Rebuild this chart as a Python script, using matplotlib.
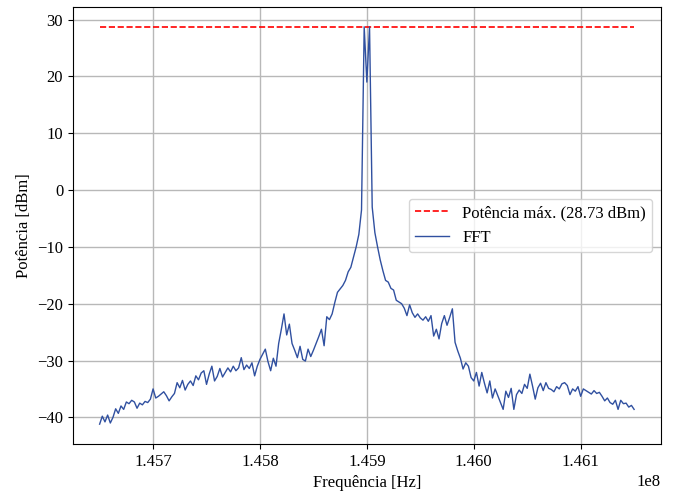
import numpy as np
import matplotlib
matplotlib.use("Agg")
import matplotlib.pyplot as plt

# FFT bins: 145.65 MHz .. 146.15 MHz, 2.5 kHz apart
freq_start = 1.4565e8
freq_step = 2500.0

power_dbm = [
    -41.2, -39.8, -40.8, -39.6, -41.0, -40.0, -38.5, -39.3, -38.0, -38.6,
    -37.3, -37.6, -37.0, -37.3, -38.4, -37.5, -37.8, -37.2, -37.4, -36.8,
    -35.0, -36.6, -36.3, -35.9, -35.5, -36.2, -37.1, -36.4, -35.8, -33.9,
    -34.8, -33.5, -35.2, -34.2, -33.6, -34.4, -32.7, -33.4, -32.2, -31.8,
    -34.2, -32.4, -31.0, -33.6, -32.8, -31.4, -32.9, -32.1, -31.3, -32.0,
    -31.0, -31.8, -31.3, -29.5, -31.6, -30.8, -31.4, -30.4, -32.7, -31.0,
    -29.8, -28.9, -28.0, -30.2, -31.8, -29.6, -31.0, -27.0, -24.5, -21.8,
    -25.5, -23.6, -27.0, -28.2, -29.5, -27.5, -29.8, -30.1, -28.0, -29.3,
    -28.2, -27.0, -25.8, -24.5, -27.4, -22.3, -22.8, -21.8, -19.8, -18.0,
    -17.4, -16.8, -15.9, -14.4, -13.6, -11.8, -10.0, -7.8, -3.5, 28.73,
    19.0, 28.73, -3.0, -7.5, -10.0, -12.3, -14.2, -15.9, -16.2, -17.3,
    -17.6, -19.4, -19.7, -20.0, -20.8, -22.1, -20.2, -21.6, -22.4, -21.8,
    -22.5, -22.9, -22.3, -23.1, -22.1, -25.7, -24.5, -26.2, -23.5, -22.1,
    -23.8, -22.4, -20.9, -26.8, -28.3, -29.6, -31.5, -30.4, -31.0, -33.0,
    -33.6, -32.1, -34.5, -32.1, -34.0, -35.7, -33.6, -36.6, -35.0, -36.2,
    -37.4, -38.6, -35.4, -36.5, -34.9, -38.6, -36.0, -35.2, -35.8, -34.2,
    -34.9, -32.4, -34.5, -36.8, -34.8, -34.0, -35.3, -33.9, -34.9, -35.1,
    -35.5, -34.6, -35.0, -34.1, -33.9, -34.4, -36.0, -35.0, -35.4, -34.6,
    -36.3, -35.0, -35.3, -35.6, -35.9, -35.3, -35.8, -35.6, -36.3, -37.1,
    -36.6, -37.4, -37.7, -37.0, -38.6, -37.0, -37.6, -37.5, -38.2, -37.9,
    -38.6,
]

freqs = freq_start + freq_step * np.arange(len(power_dbm))
p_max = max(power_dbm)

plt.rcParams['font.family'] = ['Liberation Serif', 'DejaVu Serif']
plt.rcParams['font.size'] = 12

fig, ax = plt.subplots(figsize=(6.75, 4.95), dpi=100)
fig.subplots_adjust(left=0.108, right=0.979, top=0.986, bottom=0.103)

ax.plot(freqs, [p_max] * len(freqs), '--', color='red', linewidth=1.2,
        label="Potência máx. (%.2f dBm)" % p_max)
ax.plot(freqs, power_dbm, color='#3050a0', linewidth=1.0, label="FFT")

ax.grid(True, color='#b8b8b8', linewidth=1.0)
ax.set_axisbelow(True)
ax.set_xlabel("Frequência [Hz]")
ax.set_ylabel("Potência [dBm]")
ax.set_yticks(np.arange(-40, 31, 10))
ax.set_xticks([1.457e8, 1.458e8, 1.459e8, 1.460e8, 1.461e8])
ax.legend(loc='center right')

fig.savefig("out.png", dpi=100)
